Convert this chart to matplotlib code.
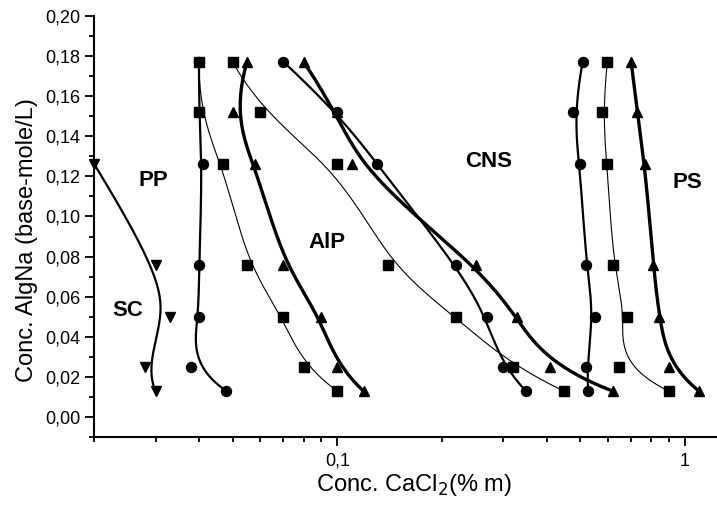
import numpy as np
import matplotlib
matplotlib.use("Agg")
from matplotlib import pyplot as plt
from matplotlib.ticker import FixedLocator, FixedFormatter

plt.rcParams["font.family"] = ["Liberation Sans", "DejaVu Sans"]

# AlgNa concentration levels (y) shared by most series
conc_algna = [0.177, 0.152, 0.126, 0.076, 0.050, 0.025, 0.013]

# SC
sc_y = [0.126, 0.076, 0.050, 0.025, 0.013]
sc_x = [0.020, 0.030, 0.033, 0.028, 0.030]

# left group
pp_circle_x = [0.040, 0.040, 0.041, 0.040, 0.040, 0.038, 0.048]
pp_square_x = [0.040, 0.040, 0.047, 0.055, 0.070, 0.080, 0.100]
pp_triangle_x = [0.055, 0.050, 0.058, 0.070, 0.090, 0.100, 0.119]

# middle group
mid_square_x = [0.050, 0.060, 0.100, 0.140, 0.219, 0.320, 0.449]
mid_circle_x = [0.070, 0.100, 0.130, 0.219, 0.269, 0.299, 0.349]
mid_triangle_x = [0.080, 0.100, 0.110, 0.250, 0.328, 0.409, 0.620]

# right group
ps_circle_x = [0.508, 0.477, 0.499, 0.519, 0.550, 0.520, 0.527]
ps_square_x = [0.598, 0.578, 0.598, 0.620, 0.680, 0.647, 0.898]
ps_triangle_x = [0.700, 0.729, 0.767, 0.811, 0.841, 0.900, 1.097]

region_labels = ["PP", "SC", "AlP", "CNS", "PS"]
region_x = [0.0295, 0.0249, 0.0934, 0.2725, 1.019]
region_y = [0.118, 0.053, 0.0868, 0.1275, 0.1167]


def bspline(x, y, n=300):
    # clamped cubic B-spline using the points as control polygon (log x)
    pts = np.column_stack([np.log10(x), y])
    k = 3
    m = len(pts)
    knots = np.concatenate([np.zeros(k), np.arange(m - k + 1), np.full(k, m - k)])
    t = np.linspace(0, m - k, n)
    t[-1] -= 1e-9

    def basis(i, d):
        if d == 0:
            return ((knots[i] <= t) & (t < knots[i + 1])).astype(float)
        out = np.zeros_like(t)
        if knots[i + d] > knots[i]:
            out += (t - knots[i]) / (knots[i + d] - knots[i]) * basis(i, d - 1)
        if knots[i + d + 1] > knots[i + 1]:
            out += (knots[i + d + 1] - t) / (knots[i + d + 1] - knots[i + 1]) * basis(i + 1, d - 1)
        return out

    curve = sum(basis(i, k)[:, None] * pts[i] for i in range(m))
    return 10 ** curve[:, 0], curve[:, 1]


fig = plt.figure(figsize=(7.17, 5.09), dpi=100)
ax = fig.add_axes([0.1315, 0.1409, 0.8685, 0.8283])

series = [
    (sc_x, sc_y, "v", 1.6),
    (pp_circle_x, conc_algna, "o", 1.6),
    (pp_square_x, conc_algna, "s", 0.8),
    (pp_triangle_x, conc_algna, "^", 2.4),
    (mid_square_x, conc_algna, "s", 0.8),
    (mid_circle_x, conc_algna, "o", 1.6),
    (mid_triangle_x, conc_algna, "^", 2.4),
    (ps_circle_x, conc_algna, "o", 1.6),
    (ps_square_x, conc_algna, "s", 0.8),
    (ps_triangle_x, conc_algna, "^", 2.4),
]

for xs, ys, marker, lw in series:
    cx, cy = bspline(xs, ys)
    ax.plot(cx, cy, color="black", lw=lw, zorder=2, solid_capstyle="butt")
    ms = {"^": 7.8, "v": 7.8, "o": 7.2, "s": 7.0}[marker]
    ax.plot(xs, ys, linestyle="none", marker=marker, ms=ms, color="black",
            zorder=3, clip_on=False)

for label, tx, ty in zip(region_labels, region_x, region_y):
    ax.text(tx, ty, label, fontsize=16, fontweight="bold", ha="center", va="center")

ax.set_xscale("log")
ax.set_xlim(0.02, 1.236)
ax.set_ylim(-0.01, 0.20)

ax.xaxis.set_major_locator(FixedLocator([0.1, 1]))
ax.xaxis.set_major_formatter(FixedFormatter(["0,1", "1"]))
ax.xaxis.set_minor_locator(FixedLocator([0.02, 0.03, 0.04, 0.05, 0.06, 0.07, 0.08, 0.09,
                                         0.2, 0.3, 0.4, 0.5, 0.6, 0.7, 0.8, 0.9]))
ax.xaxis.set_minor_formatter(FixedFormatter([""] * 16))

yt = np.arange(0, 0.201, 0.02)
ax.set_yticks(yt)
ax.set_yticklabels([f"{v:.2f}".replace(".", ",") for v in yt])
ax.set_yticks(np.arange(-0.01, 0.20, 0.02), minor=True)

ax.spines["top"].set_visible(False)
ax.spines["right"].set_visible(False)
ax.spines["left"].set_linewidth(1.5)
ax.spines["bottom"].set_linewidth(1.5)
ax.tick_params(which="major", direction="out", length=6.5, width=1.3, labelsize=13)
ax.tick_params(axis="y", which="major", pad=3.5)
ax.tick_params(axis="x", which="major", pad=4.5)
ax.tick_params(which="minor", direction="out", length=3.5, width=1.3)

ax.set_xlabel("Conc. CaCl$_2$(% m)", fontsize=17, va="center")
ax.set_ylabel("Conc. AlgNa (base-mole/L)", fontsize=17, va="center", ha="center")
ax.xaxis.set_label_coords(0.5126, -0.113)
ax.yaxis.set_label_coords(-0.108, 0.468)

fig.savefig("out.png", dpi=100)
plt.close(fig)
